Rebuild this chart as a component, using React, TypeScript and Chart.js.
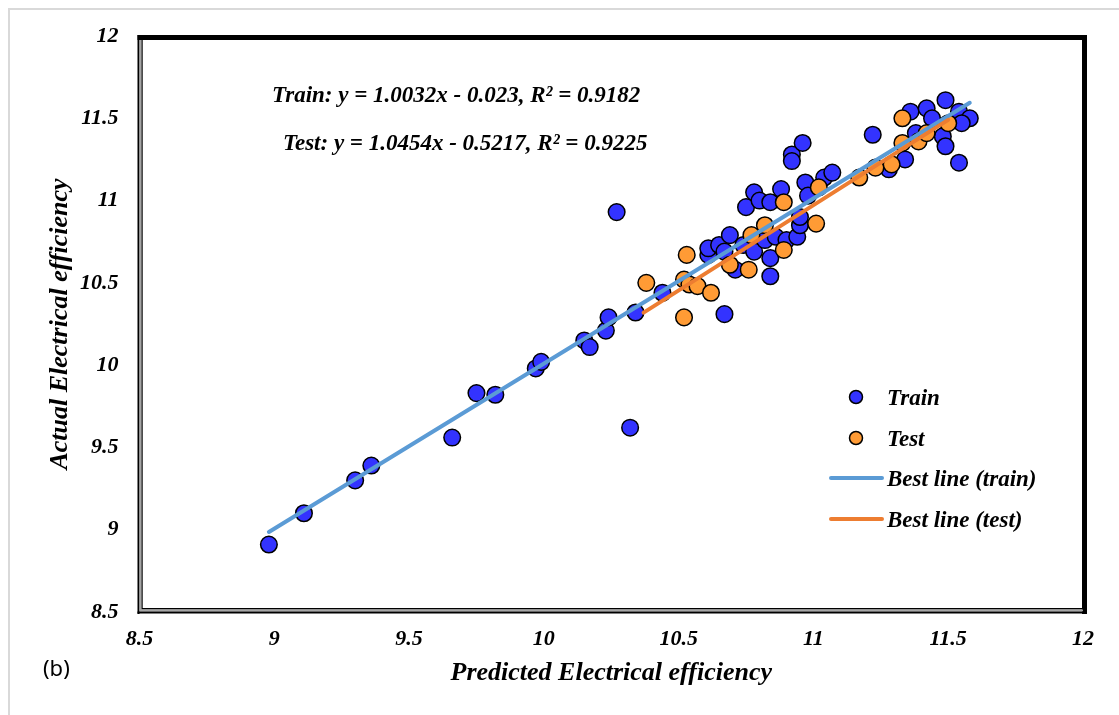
import React, { useEffect, useRef } from "react";
import { Chart, registerables } from "chart.js";

Chart.register(...registerables);

// ---- Data ----
const trainX = [8.98, 9.11, 9.30, 9.36, 9.66, 9.75, 9.82, 9.97, 9.99, 10.15, 10.17, 10.23, 10.24, 10.27, 10.32, 10.34, 10.44, 10.67, 10.61, 10.61, 10.65, 10.69, 10.67, 10.71, 10.74, 10.78, 10.82, 10.84, 10.84, 10.86, 10.90, 10.94, 10.95, 10.75, 10.78, 10.80, 10.84, 10.88, 10.97, 10.98, 11.04, 11.07, 10.92, 10.92, 10.96, 11.22, 11.28, 11.34, 11.36, 11.42, 11.44, 11.49, 11.54, 11.58, 11.55, 11.38, 11.48, 11.49, 11.54, 10.95];
const trainY = [8.91, 9.10, 9.30, 9.39, 9.56, 9.83, 9.82, 9.98, 10.02, 10.15, 10.11, 10.21, 10.29, 10.93, 9.62, 10.32, 10.44, 10.31, 10.67, 10.71, 10.73, 10.79, 10.69, 10.58, 10.73, 10.69, 10.76, 10.65, 10.54, 10.78, 10.76, 10.78, 10.85, 10.96, 11.05, 11.00, 10.99, 11.07, 11.11, 11.03, 11.14, 11.17, 11.28, 11.24, 11.35, 11.40, 11.19, 11.25, 11.54, 11.56, 11.50, 11.61, 11.54, 11.50, 11.47, 11.41, 11.39, 11.33, 11.23, 10.90];
const testX = [10.38, 10.52, 10.54, 10.57, 10.62, 10.52, 10.53, 10.69, 10.76, 10.77, 10.82, 10.89, 11.01, 10.89, 11.02, 11.17, 11.23, 11.29, 11.33, 11.39, 11.33, 11.50, 11.42];
const testY = [10.50, 10.52, 10.49, 10.48, 10.44, 10.29, 10.67, 10.61, 10.58, 10.79, 10.85, 10.70, 10.86, 10.99, 11.08, 11.14, 11.20, 11.22, 11.35, 11.36, 11.50, 11.47, 11.41];
const trainFitX = [8.98, 11.58];
const trainFitY = [8.986, 11.594];
const testFitX = [10.37, 11.5];
const testFitY = [10.319, 11.49];

const xTicks = [8.5, 9, 9.5, 10, 10.5, 11, 11.5, 12];
const yTicks = [8.5, 9, 9.5, 10, 10.5, 11, 11.5, 12];

const legendLabels = ["Train", "Test", "Best line (train)", "Best line (test)"];
const eqTrain = "Train: y = 1.0032x - 0.023, R² = 0.9182";
const eqTest = "Test: y = 1.0454x - 0.5217, R² = 0.9225";
const xTitle = "Predicted Electrical efficiency";
const yTitle = "Actual Electrical efficiency";
const panelLabel = "(b)";

const BLUE = "#3333FF";
const ORANGE = "#FF9B35";
const LBLUE = "#5B9BD5";
const LORANGE = "#ED7D31";
const SERIF = '"Liberation Serif", "Times New Roman", serif';

const pts = (xs: number[], ys: number[]) => xs.map((x, i) => ({ x, y: ys[i] }));

export default function App() {
  const ref = useRef<HTMLCanvasElement | null>(null);

  useEffect(() => {
    if (!ref.current) return;
    const overlay = {
      id: "overlay",
      beforeDatasetsDraw(chart: any) {
        const { ctx, chartArea: a } = chart;
        ctx.save();
        // frame: top & right thick black bars
        ctx.fillStyle = "#000";
        ctx.fillRect(a.left - 2, a.top - 1, a.right - a.left + 6, 5);
        ctx.fillRect(a.right - 1, a.top - 1, 5, a.bottom - a.top + 3);
        // left double line
        ctx.fillStyle = "#000";
        ctx.fillRect(a.left - 2, a.top - 1, 2, a.bottom - a.top + 3);
        ctx.fillStyle = "#a6a6a6";
        ctx.fillRect(a.left, a.top + 4, 2, a.bottom - a.top - 6);
        ctx.fillStyle = "#000";
        ctx.fillRect(a.left + 2, a.top + 4, 1.2, a.bottom - a.top - 8);
        // bottom double line
        ctx.fillStyle = "#000";
        ctx.fillRect(a.left + 2, a.bottom - 4, a.right - a.left - 2, 1.5);
        ctx.fillStyle = "#a6a6a6";
        ctx.fillRect(a.left, a.bottom - 2.5, a.right - a.left, 2);
        ctx.fillStyle = "#000";
        ctx.fillRect(a.left - 2, a.bottom - 0.5, a.right - a.left + 3, 2);
        ctx.restore();
      },
      afterDraw(chart: any) {
        const { ctx } = chart;
        ctx.save();
        ctx.fillStyle = "#000";
        ctx.font = `italic bold 23px ${SERIF}`;
        ctx.textAlign = "left";
        ctx.textBaseline = "alphabetic";
        ctx.fillText(eqTrain, 272, 102);
        ctx.fillText(eqTest, 283, 150);

        // legend
        const rows = [397, 438, 478, 519];
        const mx = 856;
        for (let i = 0; i < 4; i++) {
          const y = rows[i];
          if (i < 2) {
            ctx.beginPath();
            ctx.arc(mx, y, 6.5, 0, Math.PI * 2);
            ctx.fillStyle = i === 0 ? BLUE : ORANGE;
            ctx.fill();
            ctx.lineWidth = 1.5;
            ctx.strokeStyle = "#000";
            ctx.stroke();
          } else {
            ctx.beginPath();
            ctx.moveTo(831, y);
            ctx.lineTo(882, y);
            ctx.lineWidth = 4;
            ctx.lineCap = "round";
            ctx.strokeStyle = i === 2 ? LBLUE : LORANGE;
            ctx.stroke();
          }
          ctx.fillStyle = "#000";
          ctx.font = `italic bold 23px ${SERIF}`;
          ctx.fillText(legendLabels[i], 887, y + 7.5);
        }

        ctx.font = '22px "Noto Sans", "DejaVu Sans", sans-serif';
        ctx.fillText(panelLabel, 43, 676);
        ctx.restore();
      },
    };

    const tickFont = { family: SERIF, size: 22, style: "italic" as const, weight: "bold" as const };
    const titleFont = { family: SERIF, size: 26, style: "italic" as const, weight: "bold" as const };

    const chart = new Chart(ref.current, {
      type: "scatter",
      data: {
        datasets: [
          {
            label: legendLabels[0],
            data: pts(trainX, trainY),
            backgroundColor: BLUE,
            borderColor: "#000",
            borderWidth: 1.5,
            pointRadius: 8.3,
            order: 4,
          },
          {
            label: legendLabels[1],
            data: pts(testX, testY),
            backgroundColor: ORANGE,
            borderColor: "#000",
            borderWidth: 1.5,
            pointRadius: 8.3,
            order: 3,
          },
          {
            label: legendLabels[2],
            data: pts(trainFitX, trainFitY),
            showLine: true,
            borderColor: LBLUE,
            borderWidth: 4,
            borderCapStyle: "round",
            pointRadius: 0,
            order: 2,
          } as any,
          {
            label: legendLabels[3],
            data: pts(testFitX, testFitY),
            showLine: true,
            borderColor: LORANGE,
            borderWidth: 4,
            borderCapStyle: "round",
            pointRadius: 0,
            order: 1,
          } as any,
        ],
      },
      options: {
        animation: false,
        responsive: false,
        devicePixelRatio: 1,
        layout: { padding: { left: 0, right: 36, top: 36, bottom: 0 } },
        plugins: { legend: { display: false }, tooltip: { enabled: false } },
        scales: {
          x: {
            type: "linear",
            min: 8.5,
            max: 12,
            afterBuildTicks: (s: any) => {
              s.ticks = xTicks.map((v) => ({ value: v }));
            },
            ticks: { font: tickFont, color: "#000", padding: 14, callback: (v: any) => String(v) },
            grid: { display: false, drawTicks: false, tickLength: 0 },
            border: { display: false },
            title: { display: true, text: xTitle, font: titleFont, color: "#000", padding: { top: 0, bottom: 26 } },
            afterFit: (s: any) => {
              s.height = 103;
            },
          },
          y: {
            type: "linear",
            min: 8.5,
            max: 12,
            afterBuildTicks: (s: any) => {
              s.ticks = yTicks.map((v) => ({ value: v }));
            },
            ticks: { font: tickFont, color: "#000", padding: 21, callback: (v: any) => String(v) },
            grid: { display: false, drawTicks: false, tickLength: 0 },
            border: { display: false },
            title: { display: true, text: yTitle, font: titleFont, color: "#000", padding: { top: 45, bottom: 0 } },
            afterFit: (s: any) => {
              s.width = 139.5;
            },
          },
        },
      },
      plugins: [overlay],
    });
    return () => chart.destroy();
  }, []);

  return (
    <div style={{ position: "fixed", left: 0, top: 0, width: 1119, height: 715, background: "#fff", overflow: "hidden" }}>
      <div
        style={{
          position: "absolute",
          left: 8,
          top: 8,
          width: 1300,
          height: 900,
          borderLeft: "2px solid #d9d9d9",
          borderTop: "2px solid #d9d9d9",
        }}
      />
      <canvas ref={ref} width={1119} height={715} style={{ position: "absolute", left: 0, top: 0, display: "block" }} />
    </div>
  );
}
